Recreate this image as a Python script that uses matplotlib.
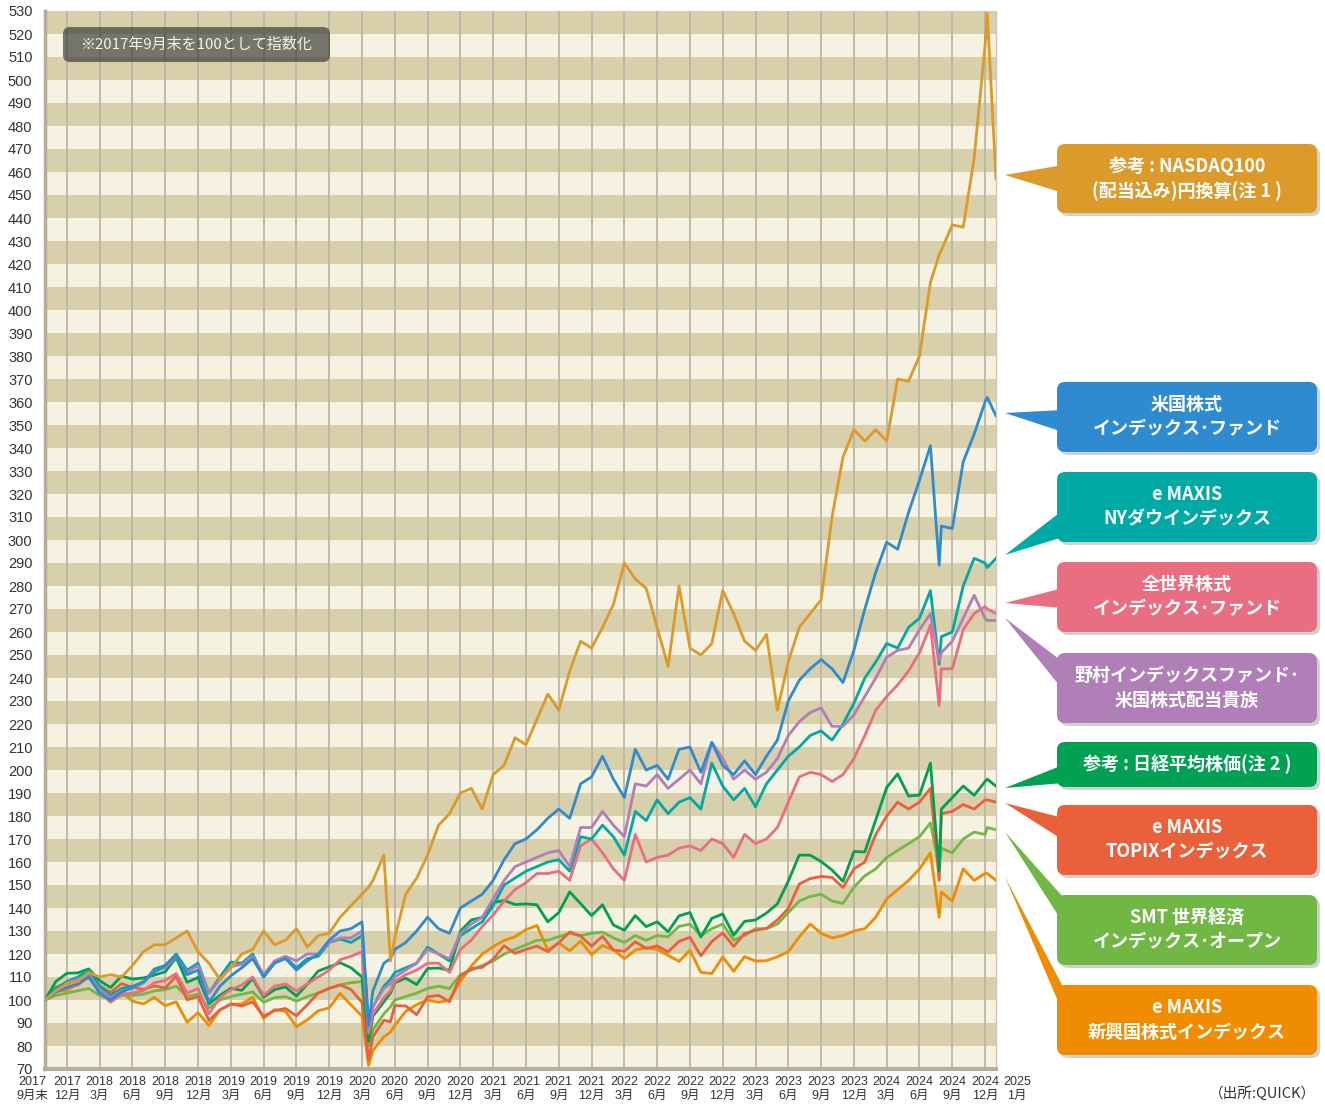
import matplotlib
matplotlib.use("Agg")
import matplotlib.pyplot as plt
from matplotlib.patches import FancyBboxPatch, Polygon
from matplotlib.transforms import IdentityTransform

W, H = 1325, 1104

# months since end of Sep 2017 (a few extra points at the sharp dips / peaks)
months = list(range(30)) + [29.6, 30, 31, 31.6] + list(range(32, 82)) + [81.8, 82, 83, 84, 85, 86, 86.2, 87]

nasdaq = [100, 104, 107, 108, 112, 110, 111, 110, 115, 121,
          124, 124, 127, 130, 121, 116, 109, 114, 120, 122,
          130, 124, 126, 131, 123, 128, 129, 136, 141, 146,
          149, 152, 163, 117,
          127, 146, 153, 163, 176, 181, 190, 192, 183, 198,
          202, 214, 211, 222, 233, 226, 243, 256, 253, 262,
          272, 290, 283, 279, 262, 245, 280, 253, 250, 255,
          278, 268, 256, 252, 259, 226, 247, 262, 268, 274,
          310, 336, 348, 343, 348, 343, 370, 369, 380, 412,
          424, 426, 437, 436, 466, 515, 529, 457]

us = [100, 103.5, 105.5, 107, 110, 103, 100, 103.5, 105.5, 108,
      112, 115, 119.5, 111, 113, 99, 106, 110.5, 114, 118,
      110, 116, 118, 113, 117, 120, 126, 130, 131, 134,
      89, 104, 116, 118,
      122, 125, 130, 136, 131, 129, 140, 143, 146, 152,
      161, 168, 170, 174, 179, 183, 179, 194, 197, 206,
      196, 188, 209, 200, 202, 196, 209, 210, 199, 212,
      202, 198, 204, 198, 206, 213, 230, 239, 244, 248,
      244, 238, 252, 270, 286, 299, 296, 312, 326, 341,
      289, 306, 305, 334, 346, 360, 362, 354]

dow = [100, 105, 108, 110, 113, 106, 102, 105, 106, 107.5,
       113.5, 115, 120, 113, 116, 103, 110, 116.5, 116, 120,
       110, 116.5, 118.5, 114, 118, 119, 125, 126.5, 125, 128,
       90, 97, 106, 109,
       112, 114, 116, 123, 120, 117, 128, 131, 134, 141,
       150, 153, 156, 158, 160, 161, 156, 171, 170, 176,
       171, 163, 182, 178, 187, 181, 186, 188, 183, 203,
       193, 187, 192, 184, 194, 200, 206, 210, 215, 217,
       213, 220, 229, 240, 247, 255, 253, 262, 266, 278,
       246, 258, 260, 280, 292, 290, 288, 292]

nomura = [100, 104, 107.5, 109, 111, 104.5, 101, 104, 105, 107.5,
          112.5, 114, 119, 112, 115, 103, 109, 114.5, 115.5, 119,
          111, 117, 119, 117, 120, 120, 125, 127, 127, 130,
          88, 97, 105, 107,
          110, 113, 116, 122, 120, 118, 129, 133, 136, 144,
          152, 158, 160, 162, 164, 165, 158, 175, 175, 182,
          176, 171, 194, 193, 198, 192, 196, 200, 194, 212,
          205, 196, 200, 196, 199, 205, 215, 221, 225, 227,
          219, 219, 224, 232, 240, 249, 252, 253, 261, 268,
          247, 251, 256, 266, 276, 266, 265, 265]

allworld = [100, 103.5, 105, 106.5, 110, 103.5, 99, 102.5, 103, 104,
            107.5, 108.5, 111.5, 103, 105, 94, 101, 104.5, 106.5, 110,
            102, 106, 107, 104, 107, 110, 113, 117.5, 119, 121,
            85.5, 94, 101, 104,
            108, 111, 113, 116, 116, 112, 122, 126, 132, 137,
            143, 148, 151, 155, 155, 156, 152, 167, 170, 164,
            157, 152, 172, 160, 162, 163, 166, 167, 165, 170,
            168, 162, 172, 168, 170, 175, 186, 197, 199, 198,
            195, 198, 205, 215, 226, 232, 237, 243, 251, 263,
            228, 244, 244, 261, 268, 271, 270, 268]

nikkei = [100, 108.1, 111.6, 111.8, 113.5, 108.4, 105.4, 110.4, 109.1, 109.6,
          110.8, 112.3, 118.5, 107.7, 109.8, 98.3, 102, 105.1, 104.2, 109.3,
          101.2, 104.5, 105.7, 101.7, 106.9, 112.6, 114.4, 116.2, 114, 110,
          82, 93, 99.2, 103,
          107.5, 109.5, 106.7, 113.7, 113.9, 112.9, 129.9, 134.8, 135.9, 142.3,
          143.3, 141.5, 141.8, 141.4, 134, 138, 147, 141.9, 136.7, 141.4,
          132.6, 130.3, 136.7, 131.9, 134, 129.7, 136.6, 138, 127.4, 135.5,
          137.4, 128.2, 134.2, 134.8, 137.8, 141.8, 151.7, 163, 163, 160.2,
          156.5, 151.6, 164.5, 164.4, 178.3, 192.4, 198.3, 188.7, 189.1, 203,
          156, 183, 188, 193, 189, 195, 196, 193]

topix = [100, 105.5, 107.3, 109, 110.2, 106.2, 103.3, 107.1, 105.5, 104.6,
         106.1, 105.2, 110.3, 100.1, 101.5, 91.1, 95.7, 98.3, 97.4, 99.2,
         92.9, 95.4, 96.3, 93.1, 98, 103, 105.1, 106.6, 104.5, 99,
         74, 84, 91.2, 90.5,
         97.6, 97.4, 93.6, 101.4, 102, 99.3, 110.4, 113.7, 114.2, 117.8,
         123.6, 120.3, 122, 123.5, 121, 124.9, 129.6, 127.8, 123.4, 127.7,
         121.7, 121.2, 125.3, 122.4, 123.5, 120.9, 125.5, 127.2, 119.2, 125.4,
         129.2, 123.3, 128.9, 130.3, 131.1, 134.8, 139.8, 150.4, 152.8, 153.7,
         153.3, 148.9, 157, 160, 172, 180, 186, 183, 186, 192,
         152, 181, 182, 185, 183, 187, 187, 186]

smt = [100, 102, 103, 104, 105, 102, 100, 102, 102, 102.5,
       104, 104.5, 106, 101.5, 102.5, 96.5, 100, 101.5, 102.5, 103.5,
       99, 101, 101.5, 99.5, 101.5, 103, 105, 106.5, 107.5, 108,
       80, 87, 94, 97,
       100, 101.5, 103, 105, 106, 105, 111, 113, 115, 117,
       120, 122, 124, 126, 126, 127.5, 129, 128, 129, 129.5,
       127, 125, 128, 126, 128, 127.5, 132, 133, 128, 131,
       133, 126, 128, 131, 131, 133, 138, 143, 145, 146,
       143, 142, 149, 154, 157, 162, 165, 168, 171, 177,
       158, 166, 164, 170, 173, 172, 175, 174]

em = [100, 104.8, 103.7, 107.6, 113, 105.4, 102.9, 103.5, 99.5, 98.3,
      101.1, 97.5, 99.2, 90.3, 94.5, 88.9, 95.7, 98.1, 98.3, 101.2,
      92, 95.8, 95.1, 88.4, 91.4, 95.3, 96.6, 102.9, 97.8, 93,
      71.6, 78.1, 84, 86,
      89, 95, 98, 100, 99, 100, 108.1, 114.8, 120, 123.2,
      125.9, 127.5, 130.6, 132.4, 121.6, 124.9, 121.4, 125.6, 119.7, 123.7,
      121.8, 118, 121.7, 122.7, 122, 119.4, 116.8, 121.6, 112, 111.5,
      118.7, 112.5, 118.9, 116.9, 117.1, 118.8, 121, 127.4, 133, 129,
      127, 128, 130, 131, 136, 144, 148, 152, 157, 164,
      136, 147, 143, 157, 152, 155, 155, 152]

tick_months = [2, 5, 8, 11, 14, 17, 20, 23, 26, 29, 32, 35, 38, 41, 44, 47, 50,
               53, 56, 59, 62, 65, 68, 71, 74, 77, 80, 83, 86]
tick_labels = ["2017\n12月", "2018\n3月", "2018\n6月", "2018\n9月", "2018\n12月",
               "2019\n3月", "2019\n6月", "2019\n9月", "2019\n12月",
               "2020\n3月", "2020\n6月", "2020\n9月", "2020\n12月",
               "2021\n3月", "2021\n6月", "2021\n9月", "2021\n12月",
               "2022\n3月", "2022\n6月", "2022\n9月", "2022\n12月",
               "2023\n3月", "2023\n6月", "2023\n9月", "2023\n12月",
               "2024\n3月", "2024\n6月", "2024\n9月", "2024\n12月"]

callout_labels = ["参考 : NASDAQ100\n(配当込み)円換算(注 1 )",
                  "米国株式\nインデックス･ファンド",
                  "e MAXIS\nNYダウインデックス",
                  "全世界株式\nインデックス･ファンド",
                  "野村インデックスファンド･\n米国株式配当貴族",
                  "参考 : 日経平均株価(注 2 )",
                  "e MAXIS\nTOPIXインデックス",
                  "SMT 世界経済\nインデックス･オープン",
                  "e MAXIS\n新興国株式インデックス"]
callout_colors = ["#dc9a2b", "#2f8bd0", "#00aaa4", "#ea6e82", "#b07fb8",
                  "#00a152", "#e9603b", "#70b843", "#ef8c00"]
# layout in image pixels: box top, box bottom, pointer tip y, pointer base (top, bottom)
box_top = [144, 382, 472, 562, 653, 742, 805, 895, 985]
box_bot = [213, 452, 542, 632, 723, 787, 875, 965, 1055]
tip_y = [175, 413, 555, 603, 618, 788, 803, 832, 877]
base_y = [(165, 193), (410, 432), (510, 537), (588, 608), (662, 690),
          (765, 783), (818, 840), (897, 923), (987, 1013)]

CJK = ["Noto Sans CJK JP", "DejaVu Sans"]
NUM = ["Liberation Sans", "Noto Sans CJK JP"]

fig = plt.figure(figsize=(W / 100, H / 100), dpi=100)
ax = fig.add_axes([45 / W, 1 - 1069 / H, (996 - 45) / W, (1069 - 11) / H])

# striped background
for lo in range(70, 530, 10):
    tan = ((530 - (lo + 10)) // 10) % 2 == 0
    ax.axhspan(lo, lo + 10, color="#d7d0aa" if tan else "#f5f2e2", lw=0, zorder=0)
for m in tick_months:
    ax.axvline(m, color="#bdb5a6", lw=1.3, zorder=1)

series = [(em, "#f08c00"), (smt, "#72b843"), (topix, "#e9603b"), (nikkei, "#00a050"),
          (allworld, "#e96e82"), (dow, "#00a9a5"), (nomura, "#b07eb8"),
          (us, "#2f8bd0"), (nasdaq, "#dc9a2a")]
for i, (vals, col) in enumerate(series):
    ax.plot(months, vals, color=col, lw=2.0, solid_joinstyle="round", zorder=3 + i)

ax.set_xlim(0, 87)
ax.set_ylim(70, 530)
ax.set_yticks(range(70, 531, 10))
ax.set_yticklabels([str(v) for v in range(70, 531, 10)], family=NUM, fontsize=10.5, color="#333333")
ax.tick_params(axis="y", length=0, pad=9)
ax.set_xticks([])
ax.spines["top"].set_visible(False)
ax.spines["left"].set_color("#b5ad9e")
ax.spines["left"].set_linewidth(2.5)
ax.spines["bottom"].set_color("#b5ad9e")
ax.spines["bottom"].set_linewidth(3)
ax.spines["right"].set_color("#cfc8b8")
ax.spines["right"].set_linewidth(1)

xt = ax.get_xaxis_transform()
lab_kw = dict(transform=xt, ha="center", va="top", fontsize=9, family=NUM,
              color="#333333", linespacing=1.15, clip_on=False)
ax.text(-1.2, -0.007, "2017\n9月末", **lab_kw)
for m, lab in zip(tick_months, tick_labels):
    ax.text(m, -0.007, lab, **lab_kw)
ax.text(88.9, -0.007, "2025\n1月", **lab_kw)

idt = IdentityTransform()

# note box at top left
note = FancyBboxPatch((63, H - 62), 267, 35, boxstyle="round,pad=0,rounding_size=7",
                      transform=idt, fc="#3a3a36", ec="none", alpha=0.68, zorder=20)
fig.add_artist(note)
fig.text(197 / W, 1 - 45 / H, "※2017年9月末を100として指数化", ha="center", va="center",
         fontsize=10.8, color="#f2f2ee", family=CJK, zorder=21)

# callouts on the right
bx0, bx1 = 1057, 1317
for lab, col, t, b, ty, (b0, b1) in zip(callout_labels, callout_colors, box_top, box_bot, tip_y, base_y):
    shadow = FancyBboxPatch((bx0 + 3, H - b - 3), bx1 - bx0, b - t,
                            boxstyle="round,pad=0,rounding_size=8", transform=idt,
                            fc="#9a9a9a", ec="none", alpha=0.45)
    fig.add_artist(shadow)
    tri = Polygon([(1005, H - ty), (bx0 + 6, H - b0), (bx0 + 6, H - b1)], closed=True,
                  transform=idt, fc=col, ec="none")
    fig.add_artist(tri)
    box = FancyBboxPatch((bx0, H - b), bx1 - bx0, b - t,
                         boxstyle="round,pad=0,rounding_size=8", transform=idt,
                         fc=col, ec="none")
    fig.add_artist(box)
    fig.text((bx0 + bx1) / 2 / W, 1 - (t + b) / 2 / H, lab, ha="center", va="center",
             fontsize=13, color="white", family=CJK, weight="bold", linespacing=1.35)

fig.text(1316 / W, 1 - 1093 / H, "（出所:QUICK）", ha="right", va="center",
         fontsize=10.5, color="#333333", family=CJK)

fig.savefig("out.png", dpi=100)
